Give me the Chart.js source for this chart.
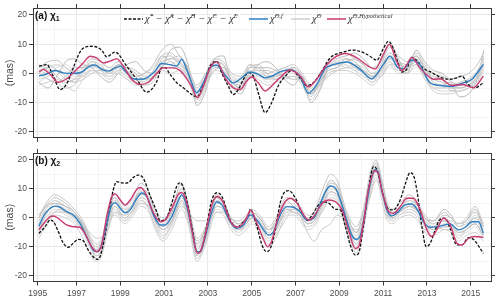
<!DOCTYPE html>
<html><head><meta charset="utf-8">
<script src="https://cdn.jsdelivr.net/npm/chart.js@4.4.1/dist/chart.umd.min.js"></script>
<style>
html,body{margin:0;padding:0;background:#fff;}
#wrap{position:relative;width:500px;height:302px;overflow:hidden;background:#fff;}
canvas{position:absolute;left:0;}
#ca{top:0;} #cb{top:145px;}
.lbl{position:absolute;font-family:"Liberation Sans",Arial,sans-serif;font-weight:bold;font-size:10px;color:#111;line-height:1;white-space:nowrap;}
.lbl sub{font-size:7px;vertical-align:-2px;}
.leg{position:absolute;font-family:"Liberation Serif","DejaVu Serif",serif;font-style:italic;font-size:10.5px;color:#333;white-space:nowrap;line-height:1;}
.leg sup{font-size:6.5px;vertical-align:4px;}
.sw{position:absolute;}
</style></head>
<body><div id="wrap">
<canvas id="ca" width="500" height="145"></canvas>
<canvas id="cb" width="500" height="157"></canvas>
<div class="lbl" style="left:35px;top:11px">(a) χ<sub>1</sub></div>
<div class="lbl" style="left:35px;top:156px">(b) χ<sub>2</sub></div>
<svg class="sw" style="left:124px;top:16px" width="20" height="6"><line x1="0" y1="3" x2="19" y2="3" stroke="#111" stroke-width="1.3" stroke-dasharray="3,1.5"/></svg>
<div class="leg" style="left:145px;top:13px">χ̂<sup>*</sup> − χ̂<sup>A</sup> − χ̂<sup>H</sup> − χ̂<sup>C</sup> − χ̂<sup>L</sup></div>
<svg class="sw" style="left:249px;top:16px" width="20" height="6"><line x1="0" y1="3" x2="19" y2="3" stroke="#2f7fc1" stroke-width="1.5"/></svg>
<div class="leg" style="left:270px;top:13px">χ̂<sup>O,f</sup></div>
<svg class="sw" style="left:291px;top:16px" width="20" height="6"><line x1="0" y1="3" x2="19" y2="3" stroke="#cfcfcf" stroke-width="1.5"/></svg>
<div class="leg" style="left:312px;top:13px">χ̂<sup>O</sup></div>
<svg class="sw" style="left:327px;top:16px" width="20" height="6"><line x1="0" y1="3" x2="19" y2="3" stroke="#c93a72" stroke-width="1.5"/></svg>
<div class="leg" style="left:348px;top:13px">χ̂<sup>O,Hypothetical</sup></div>
</div>
<script>
// ---------- axis ticks ----------
const X_TICKS = [1995.23, 1997, 1999, 2001, 2003, 2005, 2007, 2009, 2011, 2013, 2015];
const X_TICK_LABELS = ['1995','1997','1999','2001','2003','2005','2007','2009','2011','2013','2015'];
const X_MINOR = [1996, 1998, 2000, 2002, 2004, 2006, 2008, 2010, 2012, 2014];
const Y_TICKS = [-20, -10, 0, 10, 20];
const Y_MINOR = [-15, -5, 5, 15];

// ---------- panel (a) chi1 ----------
const BLK_A_X = [1995.29,1995.64,1995.94,1996.25,1996.55,1996.85,1997.24,1997.69,1998.15,1998.38,1998.76,1999.29,1999.75,2000.21,2000.66,2000.89,2001.04,2001.27,2001.58,2001.88,2002.26,2002.49,2002.79,2003.10,2003.40,2003.63,2003.93,2004.16,2004.39,2004.62,2004.85,2005.07,2005.30,2005.61,2005.91,2006.21,2006.60,2006.83,2007.13,2007.51,2007.81,2008.12,2008.58,2009.18,2009.64,2010.10,2010.40,2010.71,2011.01,2011.24,2011.47,2011.69,2011.85,2012.08,2012.31,2012.53,2012.84,2013.14,2013.68,2014.06,2014.36,2014.59,2014.89,2015.20,2015.58];
const BLK_A_Y = [2.5,3,-0.9,-5.5,-3.6,1.9,8.2,9.3,8,5.7,7.3,2.5,-2,-6.4,-2.8,1.9,2.0,-0.3,-3.2,-4.9,-7.2,-8,-3.8,2.5,4.2,0.2,-4.3,-7.2,-5.5,-2,0.3,-0.9,-6.6,-13.4,-10,-4.3,-0.4,1.1,-0.9,-4.1,-3.2,-0.3,5.3,7.3,8,7.1,5.9,4.5,8.5,11,8.5,3.5,0.5,1.5,5.5,4.5,1.8,0.6,-1.5,-2,-1.5,-0.9,-3.8,-4.9,-3.2];

const BLUE_A_X = [1995.29,1995.64,1996.02,1996.40,1996.85,1997.24,1997.62,1997.85,1998.15,1998.45,1998.76,1998.99,1999.29,1999.59,1999.90,2000.21,2000.58,2000.89,2001.27,2001.58,2001.80,2002.03,2002.26,2002.49,2002.79,2003.10,2003.40,2003.78,2004.16,2004.54,2004.92,2005.30,2005.61,2005.99,2006.37,2006.83,2007.21,2007.59,2007.97,2008.35,2008.73,2009.34,2009.95,2010.48,2011.01,2011.32,2011.69,2011.92,2012.31,2012.68,2013.14,2013.60,2014.13,2014.66,2015.05,2015.58];
const BLUE_A_Y = [-0.9,-0.2,1.0,0.2,0,0.5,2.5,2.9,1.4,0.8,1.9,2.5,0.2,-1.8,-2,-1.5,0.8,3.4,3.0,2.5,4.8,1.4,-3.2,-6.6,-3.2,1.9,2.8,-0.5,-3.2,-1.5,0.5,-0.3,-1.5,-0.7,0.8,1.2,-1.1,-6.8,-3.8,1.6,3.0,3.9,1.4,-1.8,3.1,5.9,1.9,1.6,4.5,3.0,-3.2,-4.1,-4.4,-3.2,-2,3.1];

const MAG_A_X = [1995.29,1995.48,1995.79,1996.17,1996.55,1996.93,1997.31,1997.62,1997.92,1998.22,1998.53,1998.84,1999.14,1999.52,1999.90,2000.28,2000.66,2000.96,2001.35,2001.65,2001.95,2002.26,2002.52,2002.79,2003.10,2003.40,2003.78,2004.16,2004.47,2004.77,2005.00,2005.30,2005.61,2005.91,2006.29,2006.75,2007.21,2007.59,2007.97,2008.42,2008.88,2009.26,2009.79,2010.32,2010.63,2011.01,2011.28,2011.62,2011.85,2012.08,2012.31,2012.68,2013.06,2013.29,2013.60,2014.13,2014.66,2015.12,2015.58];
const MAG_A_Y = [0.5,1.4,-0.3,-3,-1.8,0.8,3.6,5.9,5.3,3.6,4.2,5.0,2.5,-2,-3.8,-3,0,1.9,1.9,1.4,-0.9,-4.6,-8.3,-4.4,1.9,4.0,-1.5,-4.9,-5.5,-2.6,-1.2,-3.2,-6,-4.3,-1.5,1.2,-0.9,-4.6,-2,2.9,5.9,6.8,5.4,2.5,1.5,6.5,10,4.2,1.0,3,5.5,1.9,-0.9,-2,-1.8,-4.1,-3.8,-4.9,-0.9];

const GRAY_A_X = [1995.28,1995.7,1996.1,1996.5,1996.9,1997.3,1997.7,1998.1,1998.5,1998.9,1999.3,1999.7,2000.1,2000.5,2000.9,2001.3,2001.7,2002.1,2002.5,2002.9,2003.3,2003.7,2004.1,2004.5,2004.9,2005.3,2005.7,2006.1,2006.5,2006.9,2007.3,2007.7,2008.1,2008.5,2008.9,2009.3,2009.7,2010.1,2010.5,2010.9,2011.3,2011.7,2012.1,2012.5,2012.9,2013.3,2013.7,2014.1,2014.5,2014.9,2015.3,2015.6];
const GRAY_A1 = [2,4,4.5,2,0.5,2,5,4,2,4,1,-1,0,3,8,10,6,2,-5,0,5,4,0,-1,3,2,0,1,2,3,0,-4,0,4,6,7,5,3,0,3,9,6,4,7,3,0,-1,-2,-1,0,3,7];
const GRAY_A2 = [-4,-3,-2,-4,-6,-2,1,0,-2,0,-2,-4,-4,-2,1,0,1,-2,-10,-5,1,0,-5,-6,-1,-2,-4,-3,-2,-1,-4,-9,-5,0,1,1,0,-2,-4,-1,3,0,0,3,-2,-6,-7,-7,-6,-5,-3,1];
const GRAY_A3 = [1,2,-1,-3,-2,1,3,2,1,3,2,0,-2,-1,5,6,3,0,-8,-3,4,3,-3,-5,2,3,0,-2,-1,2,-1,-7,-4,1,2,5,4,1,-1,2,7,4,1,6,2,-2,-3,-5,-5,-4,-1,4];
const GRAY_A4 = [-2,-1,2,3,1,-1,2,3,2,1,-1,-3,-3,1,4,3,5,2,-6,-2,3,1,-2,-3,0,-1,-2,0,2,0,-3,-6,-2,3,4,3,1,-1,-2,0,4,2,3,5,0,-4,-5,-5,-3,-2,1,5];
const GRAY_A5 = [3,1,-3,-5,-4,0,4,3,0,2,0,-1,0,2,6,4,2,-1,-9,-4,2,2,-2,-4,3,1,-1,-1,0,1,-2,-8,-3,2,3,4,2,0,-3,1,6,3,2,4,1,-3,-4,-3,-4,-3,0,6];
const GRAY_A6 = [0,2,3,1,-1,0,1,0,-1,1,-1,-2,-1,0,2,2,3,-1,-7,-2,2,2,-1,-2,1,0,-3,-2,0,1,-2,-5,-2,1,2,3,1,1,-1,2,5,2,1,4,1,-3,-4,-5,-3,-3,-1,2];
const GRAY_A7 = [-3,-5,-1,4,5,3,2,-1,-3,0,3,4,1,0,2,8,9,3,-11,-6,5,6,-4,-7,-1,3,4,2,-2,-4,-1,-10,-6,2,5,6,7,5,2,4,10,5,0,8,4,1,0,-3,-8,-7,-2,8];
const GRAY_A8 = [1,0,1,-1,-3,-2,0,1,1,2,0,-3,-4,-3,3,5,4,1,-4,0,3,1,-3,-5,0,1,1,0,-1,-1,-3,-6,-4,-1,1,2,3,2,-1,-1,3,3,2,3,-1,-5,-5,-4,-5,-4,-2,2];
const GRAY_A9 = [2,3,1,-2,-3,1,4,2,0,3,1,-2,-2,1,6,7,4,0,-7,-2,4,3,-1,-3,2,2,-1,-1,1,2,-1,-6,-3,2,4,5,3,1,-1,1,6,4,2,5,2,-2,-2,-4,-3,-2,1,5];
const GRAY_A10 = [-1,1,3,2,0,-1,1,1,0,0,-2,-3,-2,0,3,4,2,-1,-6,-1,3,2,-2,-3,1,0,-2,-1,1,2,-1,-5,-2,2,3,2,2,0,-2,0,4,1,1,4,0,-4,-4,-3,-4,-4,-1,3];
const GRAY_A11 = [0,-2,-3,-1,2,2,3,1,-1,1,2,1,-1,0,4,5,6,1,-8,-4,1,2,-3,-4,0,2,2,1,-1,-2,-2,-7,-3,1,2,4,5,3,0,1,5,4,3,6,2,-1,-2,-6,-6,-5,-2,3];
const GRAY_A12 = [-3,-1,1,0,-2,-1,2,2,0,1,-1,-2,-3,-1,2,2,2,-2,-8,-3,2,1,-4,-5,-1,-1,-2,-2,0,0,-3,-7,-4,0,1,2,1,-1,-3,-1,2,1,0,2,-1,-5,-6,-6,-4,-4,-2,1];

// ---------- panel (b) chi2 ----------
const BLK_B_X = [1995.28,1995.57,1995.80,1995.95,1996.17,1996.40,1996.63,1996.85,1997.07,1997.30,1997.53,1997.84,1997.99,1998.20,1998.45,1998.68,1998.83,1999.14,1999.36,1999.60,1999.82,2000.05,2000.35,2000.66,2000.81,2001.04,2001.35,2001.58,2001.73,2001.96,2002.27,2002.50,2002.65,2002.88,2003.18,2003.41,2003.64,2004.02,2004.32,2004.63,2004.86,2004.93,2005.24,2005.47,2005.67,2005.85,2006.08,2006.30,2006.53,2006.69,2007.00,2007.30,2007.53,2007.76,2007.99,2008.22,2008.52,2008.83,2009.05,2009.28,2009.50,2009.73,2009.88,2010.10,2010.33,2010.56,2010.72,2010.94,2011.25,2011.47,2011.78,2012.00,2012.23,2012.38,2012.54,2012.77,2012.97,2013.15,2013.38,2013.60,2013.83,2014.06,2014.37,2014.60,2014.90,2015.13,2015.58];
const BLK_B_Y = [-5.3,-3,-0.7,-1.3,-4.7,-8.7,-10.1,-8.7,-7.4,-7.8,-11,-13.9,-14.3,-9.9,0.5,9.7,12.5,12,12.2,14,14.8,13.7,7.9,2.2,-0.9,-0.7,5.1,11,12.2,8.5,-3,-11.6,-11.6,-5.3,6.2,8.7,7.4,-0.7,-3.2,-1.3,1,3,-3,-9.3,-11.6,-10.5,-4.1,5.1,9.1,9.4,6.8,1.6,-0.7,1,3.9,5.6,5.1,3,2.8,-3,-9.3,-12.8,-12.2,-3,9.7,17.7,16.6,9.7,3,2.8,6.2,11.4,15.6,14.8,9.7,-3,-9.9,-8.7,-4.1,-0.5,-0.1,-3.6,-9.3,-9.3,-6.8,-7.4,-12.2];

const BLUE_B_X = [1995.28,1995.57,1995.80,1996.02,1996.26,1996.55,1996.85,1997.15,1997.46,1997.76,1997.92,1998.15,1998.38,1998.61,1998.77,1999.00,1999.22,1999.45,1999.76,1999.99,2000.22,2000.52,2000.83,2001.05,2001.35,2001.66,2001.81,2002.04,2002.27,2002.50,2002.65,2002.88,2003.18,2003.41,2003.64,2004.02,2004.32,2004.63,2004.93,2005.24,2005.55,2005.78,2006.00,2006.30,2006.60,2006.90,2007.20,2007.53,2007.83,2008.14,2008.37,2008.60,2008.83,2009.05,2009.36,2009.59,2009.78,2009.97,2010.20,2010.43,2010.62,2010.77,2010.94,2011.17,2011.40,2011.70,2012.00,2012.31,2012.61,2012.84,2013.15,2013.60,2014.06,2014.45,2014.75,2015.06,2015.36,2015.58];
const BLUE_B_Y = [-2.8,1.6,3.3,4.1,3.7,2.2,1,-1.8,-6.4,-11,-11.6,-9.3,-1.8,4.5,5.3,3.3,1.8,2.8,6.8,8.5,7.4,1,-2.4,-2.4,0.5,6.2,7.9,3.9,-4.1,-11.6,-11.6,-6.4,2.2,5.6,4.5,-1.3,-3.6,-2.4,1,-0.7,-4.1,-5.9,-4.7,1,3.9,3.7,2.2,-0.7,-0.1,5.1,9.1,11,10.2,6.2,-1.3,-6.2,-7.4,-5.9,2.8,12.5,16.6,16,9.7,2.8,0.7,2.2,4.5,4.8,2.2,-1.3,-3.2,-2.8,-2.1,-4.1,-3.2,-1.3,-1.3,-5.3];

const MAG_B_X = [1995.28,1995.57,1995.80,1995.95,1996.26,1996.55,1996.85,1997.15,1997.38,1997.69,1997.92,1998.15,1998.38,1998.61,1998.77,1999.00,1999.22,1999.45,1999.76,1999.92,2000.14,2000.45,2000.83,2001.05,2001.35,2001.66,2001.81,2002.04,2002.27,2002.52,2002.65,2002.88,2003.18,2003.41,2003.64,2004.02,2004.32,2004.63,2004.90,2004.93,2005.24,2005.55,2005.72,2005.90,2006.22,2006.53,2006.76,2007.07,2007.38,2007.60,2007.83,2008.22,2008.52,2008.83,2009.13,2009.44,2009.73,2009.88,2010.10,2010.33,2010.62,2010.77,2010.94,2011.25,2011.47,2011.78,2012.08,2012.38,2012.69,2013.00,2013.22,2013.45,2013.75,2014.06,2014.37,2014.60,2014.90,2015.20,2015.58];
const MAG_B_Y = [-4.1,-1.3,0.5,0.7,-0.7,-2.4,-3,-3.2,-5.3,-9.9,-11.6,-9.3,0.5,7.4,8.3,6.2,4.5,6.2,9.9,10.5,8.7,2.8,-1.3,-0.7,3.3,8.3,8.7,5.1,-4.1,-12.2,-11.6,-5.9,4.5,7.4,6.2,-0.9,-3.2,-1.6,2.2,2.8,-1.8,-7.6,-9.9,-8.2,0.5,5.6,6.8,5.1,1,-0.7,0.5,5.1,6.2,5.6,2.8,-4.7,-10.5,-9.9,-1.8,9.7,16.3,15.6,9.7,2.2,1.6,3.9,6.8,6.8,2.8,-4.1,-6.4,-4.1,-0.1,-2.4,-8.7,-9.3,-7,-6.4,-6.7];

const GRAY_B_X = [1995.28,1995.6,1996.0,1996.5,1996.9,1997.3,1997.6,1997.92,1998.2,1998.45,1998.75,1999.2,1999.5,1999.95,2000.3,2000.6,2000.95,2001.35,2001.8,2002.1,2002.5,2002.9,2003.4,2003.7,2004.05,2004.4,2004.75,2005.0,2005.35,2005.78,2006.1,2006.6,2006.9,2007.2,2007.55,2007.85,2008.2,2008.6,2008.9,2009.3,2009.78,2010.1,2010.4,2010.68,2010.95,2011.2,2011.45,2011.75,2012.2,2012.6,2012.9,2013.3,2013.8,2014.1,2014.45,2014.8,2015.2,2015.58];
const GRAY_B1 = [0,5,8,6,3,-1,-6,-9,-6,3,8,4,6,12,9,3,0,3,12,5,-7,-3,8,6,0,-1,1,3,1,-3,0,7,6,4,1,2,9,15,13,3,-3,3,15,20,13,5,3,5,8,5,1,-1,2,0,-2,0,4,-2];
const GRAY_B2 = [-7,-3,1,0,-2,-7,-12,-15,-12,-3,1,-2,0,4,2,-4,-8,-4,3,-2,-15,-9,2,1,-4,-6,-4,-2,-5,-10,-7,1,1,-1,-4,-3,2,6,5,-4,-12,-4,8,14,6,-1,-2,0,1,-1,-5,-6,-4,-5,-8,-6,-5,-8];
const GRAY_B3 = [-4,1,5,4,2,-3,-9,-13,-10,-1,4,0,2,7,5,-1,-4,-1,6,1,-13,-7,4,3,-2,-4,-2,0,-2,-7,-4,3,2,1,-2,-1,4,9,8,-1,-9,-2,10,17,10,2,0,2,4,2,-2,-4,-3,-3,-5,-4,-2,-6];
const GRAY_B4 = [-2,3,6,3,0,-5,-10,-12,-8,1,6,3,5,10,7,1,-2,1,9,3,-10,-5,6,5,-1,-3,-1,1,-1,-6,-3,5,5,3,0,1,7,12,10,1,-6,1,12,18,11,3,1,3,6,3,-1,-2,-1,-1,-3,-2,1,-4];
const GRAY_B5 = [-3,-1,2,2,1,-2,-5,-7,-6,-2,2,1,2,5,4,1,-1,0,4,2,-1,-1,2,2,0,-2,-1,0,-2,-4,-3,2,3,1,-5,-8,-4,-2,1,-1,-4,-1,7,13,8,3,1,2,4,3,0,-2,-1,-1,-3,-2,0,-3];
const GRAY_B6 = [-5,0,3,1,-1,-4,-8,-10,-9,-2,3,0,1,5,4,-2,-6,-3,5,0,-12,-6,3,2,-3,-5,-3,-1,-3,-8,-5,2,2,0,-3,-2,3,8,7,-2,-10,-3,9,15,8,0,-1,1,3,1,-3,-5,-2,-3,-6,-5,-3,-7];
const GRAY_B7 = [1,4,5,2,1,-2,-7,-11,-7,2,7,2,4,9,6,0,-3,2,10,4,-9,-4,7,5,0,-2,0,2,0,-4,-1,6,4,2,-1,0,6,13,11,2,-5,2,13,19,12,4,2,3,7,4,0,-1,3,1,-3,-1,3,-3];
const GRAY_B8 = [-6,-2,2,3,0,-3,-9,-14,-11,-4,2,-1,1,6,3,-3,-7,-2,5,-1,-14,-8,5,4,-2,-5,-2,0,-4,-9,-6,0,3,2,-2,-1,2,7,6,-3,-11,-3,11,16,9,1,-1,1,2,0,-4,-3,-4,-4,-7,-4,-2,-6];
const GRAY_B9 = [-1,3,6,4,1,-3,-8,-12,-9,0,5,2,3,9,6,0,-4,0,8,2,-11,-5,6,4,-1,-3,-1,1,-1,-5,-2,4,4,2,-1,0,5,11,9,0,-7,0,11,17,10,2,0,2,5,3,-1,-3,-1,-2,-4,-3,0,-4];
const GRAY_B10 = [-3,2,4,2,0,-4,-9,-11,-8,-1,4,1,3,8,6,-1,-5,-1,7,2,-10,-6,4,3,-2,-4,-2,0,-2,-6,-4,3,3,1,-2,-1,4,10,9,-1,-8,-1,10,16,9,1,0,2,4,1,-2,-4,-2,-3,-5,-4,-1,-5];
const GRAY_B11 = [0,4,7,5,2,-2,-7,-10,-7,2,6,3,4,10,8,2,-1,2,9,3,-8,-4,7,5,0,-2,0,2,0,-4,-2,5,5,3,0,1,6,12,11,1,-5,1,12,18,12,3,1,3,6,4,0,-2,1,0,-2,-1,2,-3];
const GRAY_B12 = [-5,-1,3,2,-1,-5,-10,-13,-10,-2,3,-1,1,6,4,-2,-6,-2,6,0,-13,-7,4,3,-2,-4,-3,-1,-3,-8,-5,2,2,0,-3,-2,3,9,7,-2,-10,-2,10,16,8,1,-1,1,3,1,-3,-4,-3,-3,-6,-4,-2,-6];

// ---------- styles ----------
const BLUE = '#2f7fc1', MAGENTA = '#c93a72', BLACK = '#111111';
const GRAY_COLS = ['#c4c4c4','#d0d0d0','#bdbdbd','#d8d8d8','#c9c9c9','#dedede','#b9b9b9','#cccccc','#c6c6c6','#d4d4d4','#c0c0c0','#dadada'];
const AX = '#3a3a3a', TXT = '#4d4d4d', GRID_MAJ = '#e9e9e9', GRID_MIN = '#f4f4f4';
const FONT = {family:'"Liberation Sans", Arial, sans-serif', size:8.5};

function pts(xs, ys){ return xs.map((x,i)=>({x:x, y:ys[i]})); }

function datasets(bx,by,ux,uy,mx,my,gx,grays){
  const d = [
    {data:pts(mx,my), borderColor:MAGENTA, borderWidth:1.4, order:0},
    {data:pts(ux,uy), borderColor:BLUE, borderWidth:1.4, order:1},
    {data:pts(bx,by), borderColor:BLACK, borderWidth:1.3, borderDash:[3,1.6], order:2}
  ];
  grays.forEach((g,i)=>d.push({data:pts(gx,g), borderColor:GRAY_COLS[i], borderWidth:1.0, order:3}));
  return d;
}

const X_MIN = 1995.014, X_MAX = 2015.927;
function makeScales(yMin, yMax, showX, topH, botH){
  const gx = X_TICKS.concat(X_MINOR).sort((a,b)=>a-b);
  const gy = Y_TICKS.concat(Y_MINOR).sort((a,b)=>a-b);
  const majX = v => X_TICKS.indexOf(v) >= 0;
  const majY = v => Y_TICKS.indexOf(v) >= 0;
  return {
    x:{type:'linear', position:'bottom', min:X_MIN, max:X_MAX,
      afterBuildTicks:s=>{ s.ticks = gx.map(v=>({value:v})); },
      afterFit:s=>{ s.height = botH; },
      grid:{color:c=>majX(c.tick.value)?GRID_MAJ:GRID_MIN, lineWidth:1, drawTicks:true, tickLength:4,
            tickColor:c=>majX(c.tick.value)?AX:'rgba(0,0,0,0)'},
      border:{display:true, color:AX, width:1},
      ticks:{display:showX, autoSkip:false, maxRotation:0, minRotation:0, padding:3, color:TXT, font:FONT,
             callback:v=>{ const i = X_TICKS.indexOf(v); return i<0 ? '' : X_TICK_LABELS[i]; }}},
    x2:{type:'linear', position:'top', min:X_MIN, max:X_MAX,
      afterBuildTicks:s=>{ s.ticks = X_TICKS.map(v=>({value:v})); },
      afterFit:s=>{ s.height = topH; },
      grid:{drawOnChartArea:false, drawTicks:true, tickLength:4, tickColor:AX},
      border:{display:true, color:AX, width:1},
      ticks:{display:false}},
    y:{type:'linear', position:'left', min:yMin, max:yMax,
      afterBuildTicks:s=>{ s.ticks = gy.map(v=>({value:v})); },
      afterFit:s=>{ s.width = 33; },
      grid:{color:c=>majY(c.tick.value)?GRID_MAJ:GRID_MIN, lineWidth:1, drawTicks:true, tickLength:4,
            tickColor:c=>majY(c.tick.value)?AX:'rgba(0,0,0,0)'},
      border:{display:true, color:AX, width:1},
      title:{display:true, text:'(mas)', color:TXT, font:{family:FONT.family, size:10.5}, padding:{top:4, bottom:0}},
      ticks:{autoSkip:false, padding:2, color:TXT, font:FONT,
             callback:v=> majY(v) ? String(v) : ''}},
    y2:{type:'linear', position:'right', min:yMin, max:yMax,
      afterBuildTicks:s=>{ s.ticks = Y_TICKS.map(v=>({value:v})); },
      afterFit:s=>{ s.width = 9; },
      grid:{drawOnChartArea:false, drawTicks:true, tickLength:4, tickColor:AX},
      border:{display:true, color:AX, width:1},
      ticks:{display:false}}
  };
}

function options(yMin,yMax,showX,topH,botH){
  return {responsive:false, animation:false, devicePixelRatio:1,
    layout:{padding:0},
    plugins:{legend:{display:false}, tooltip:{enabled:false}},
    elements:{point:{radius:0}, line:{cubicInterpolationMode:'monotone', fill:false}},
    scales:makeScales(yMin,yMax,showX,topH,botH)};
}

new Chart(document.getElementById('ca'), {type:'line',
  data:{datasets:datasets(BLK_A_X,BLK_A_Y,BLUE_A_X,BLUE_A_Y,MAG_A_X,MAG_A_Y,GRAY_A_X,
        [GRAY_A1,GRAY_A2,GRAY_A3,GRAY_A4,GRAY_A5,GRAY_A6,GRAY_A7,GRAY_A8,GRAY_A9,GRAY_A10,GRAY_A11,GRAY_A12])},
  options:options(-22.05, 22.39, false, 8, 7)});

new Chart(document.getElementById('cb'), {type:'line',
  data:{datasets:datasets(BLK_B_X,BLK_B_Y,BLUE_B_X,BLUE_B_Y,MAG_B_X,MAG_B_Y,GRAY_B_X,
        [GRAY_B1,GRAY_B2,GRAY_B3,GRAY_B4,GRAY_B5,GRAY_B6,GRAY_B7,GRAY_B8,GRAY_B9,GRAY_B10,GRAY_B11,GRAY_B12])},
  options:options(-21.9, 22.4, true, 8, 20.5)});
</script>
</body></html>
